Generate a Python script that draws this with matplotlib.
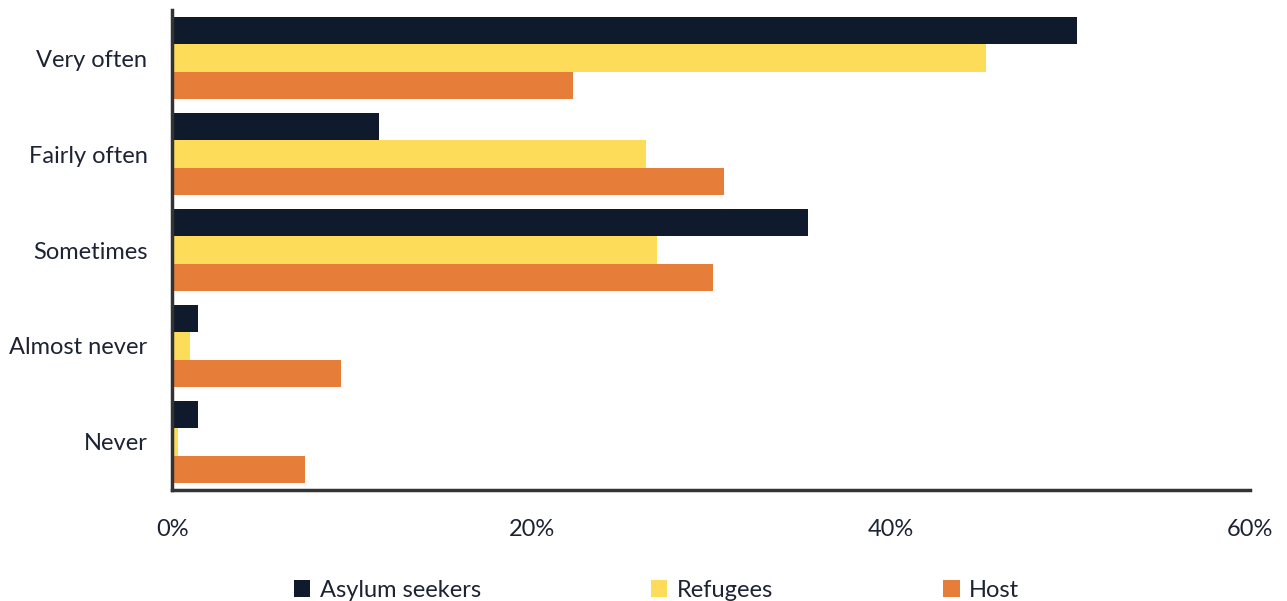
import matplotlib.pyplot as plt
import numpy as np

plt.rcParams['font.family'] = ['Lato', 'DejaVu Sans']

categories = ['Very often', 'Fairly often', 'Sometimes', 'Almost never', 'Never']
asylum_seekers = [50.4, 11.5, 35.4, 1.4, 1.4]
refugees = [45.3, 26.4, 27.0, 1.0, 0.3]
host = [22.3, 30.7, 30.1, 9.4, 7.4]
series_names = ['Asylum seekers', 'Refugees', 'Host']
x_ticks = [0, 20, 40, 60]

colors = ['#0f1b2d', '#fddc5a', '#e67e3a']
text_color = '#1c2333'

fig = plt.figure(figsize=(12.87, 6.01), dpi=100)
ax = fig.add_axes([0.134, 0.185, 0.837, 0.798])

y = np.arange(len(categories))
h = 0.286
for i, (vals, name, c) in enumerate(zip([asylum_seekers, refugees, host], series_names, colors)):
    ax.barh(y + (i - 1) * h, vals, height=h, color=c, label=name)

ax.set_ylim(len(categories) - 0.5, -0.5)
ax.set_xlim(0, 60)
ax.set_yticks(y)
ax.set_yticklabels(categories)
ax.set_xticks(x_ticks)
ax.set_xticklabels([f'{t}%' for t in x_ticks])
ax.tick_params(axis='both', length=0, labelsize=17, colors=text_color)
ax.tick_params(axis='x', pad=21)
ax.tick_params(axis='y', pad=18)

for s in ['top', 'right']:
    ax.spines[s].set_visible(False)
for s in ['left', 'bottom']:
    ax.spines[s].set_color('#333333')
    ax.spines[s].set_linewidth(2.5)

fig.legend(loc='lower center', bbox_to_anchor=(0.51, -0.035), ncol=3, frameon=False,
           fontsize=17, handlelength=0.7, handleheight=0.7, handletextpad=0.4,
           columnspacing=7.2, labelcolor=text_color)

fig.savefig('out.png', dpi=100)
